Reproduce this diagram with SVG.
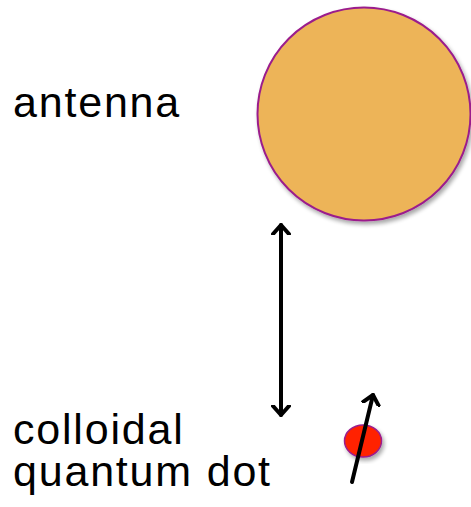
<svg xmlns="http://www.w3.org/2000/svg" width="471" height="507" viewBox="0 0 471 507">
<style>
.lbl{font-family:"Liberation Sans",Arial,sans-serif;font-size:43px;letter-spacing:1.8px;fill:#000}
.arr{stroke:#000;stroke-width:4;fill:none;stroke-linecap:round;stroke-linejoin:round}
</style>
<defs>
<filter id="sh" x="-20%" y="-20%" width="140%" height="140%">
<feGaussianBlur in="SourceAlpha" stdDeviation="2"/>
<feOffset dx="2" dy="3" result="b"/>
<feComponentTransfer><feFuncA type="linear" slope="0.35"/></feComponentTransfer>
<feMerge><feMergeNode/><feMergeNode in="SourceGraphic"/></feMerge>
</filter>
<marker id="head" viewBox="0 0 20 20" refX="10" refY="10" markerWidth="20" markerHeight="20" markerUnits="userSpaceOnUse" orient="auto-start-reverse">
<path d="M1,2 L10,10 L1,18" stroke="#000" stroke-width="4" fill="none" stroke-linecap="round" stroke-linejoin="round"/>
</marker>
</defs>
<rect width="471" height="507" fill="#fff"/>
<g id="antenna">
<circle cx="364" cy="114" r="106.5" fill="#EDB458" stroke="#9B1E8C" stroke-width="2" filter="url(#sh)"/>
<text class="lbl" x="13" y="117">antenna</text>
</g>
<g id="quantum-dot">
<ellipse cx="363" cy="441" rx="18.5" ry="16" fill="#FF2200" stroke="#9B1E8C" stroke-width="1.5" filter="url(#sh)"/>
<text class="lbl" x="13" y="444">colloidal</text>
<text class="lbl" x="13" y="486">quantum dot</text>
</g>
<g id="connectors">
<line class="arr" x1="281" y1="225" x2="281" y2="415" marker-start="url(#head)" marker-end="url(#head)"/>
<line class="arr" x1="352" y1="482" x2="373" y2="395" marker-end="url(#head)"/>
</g>
</svg>
